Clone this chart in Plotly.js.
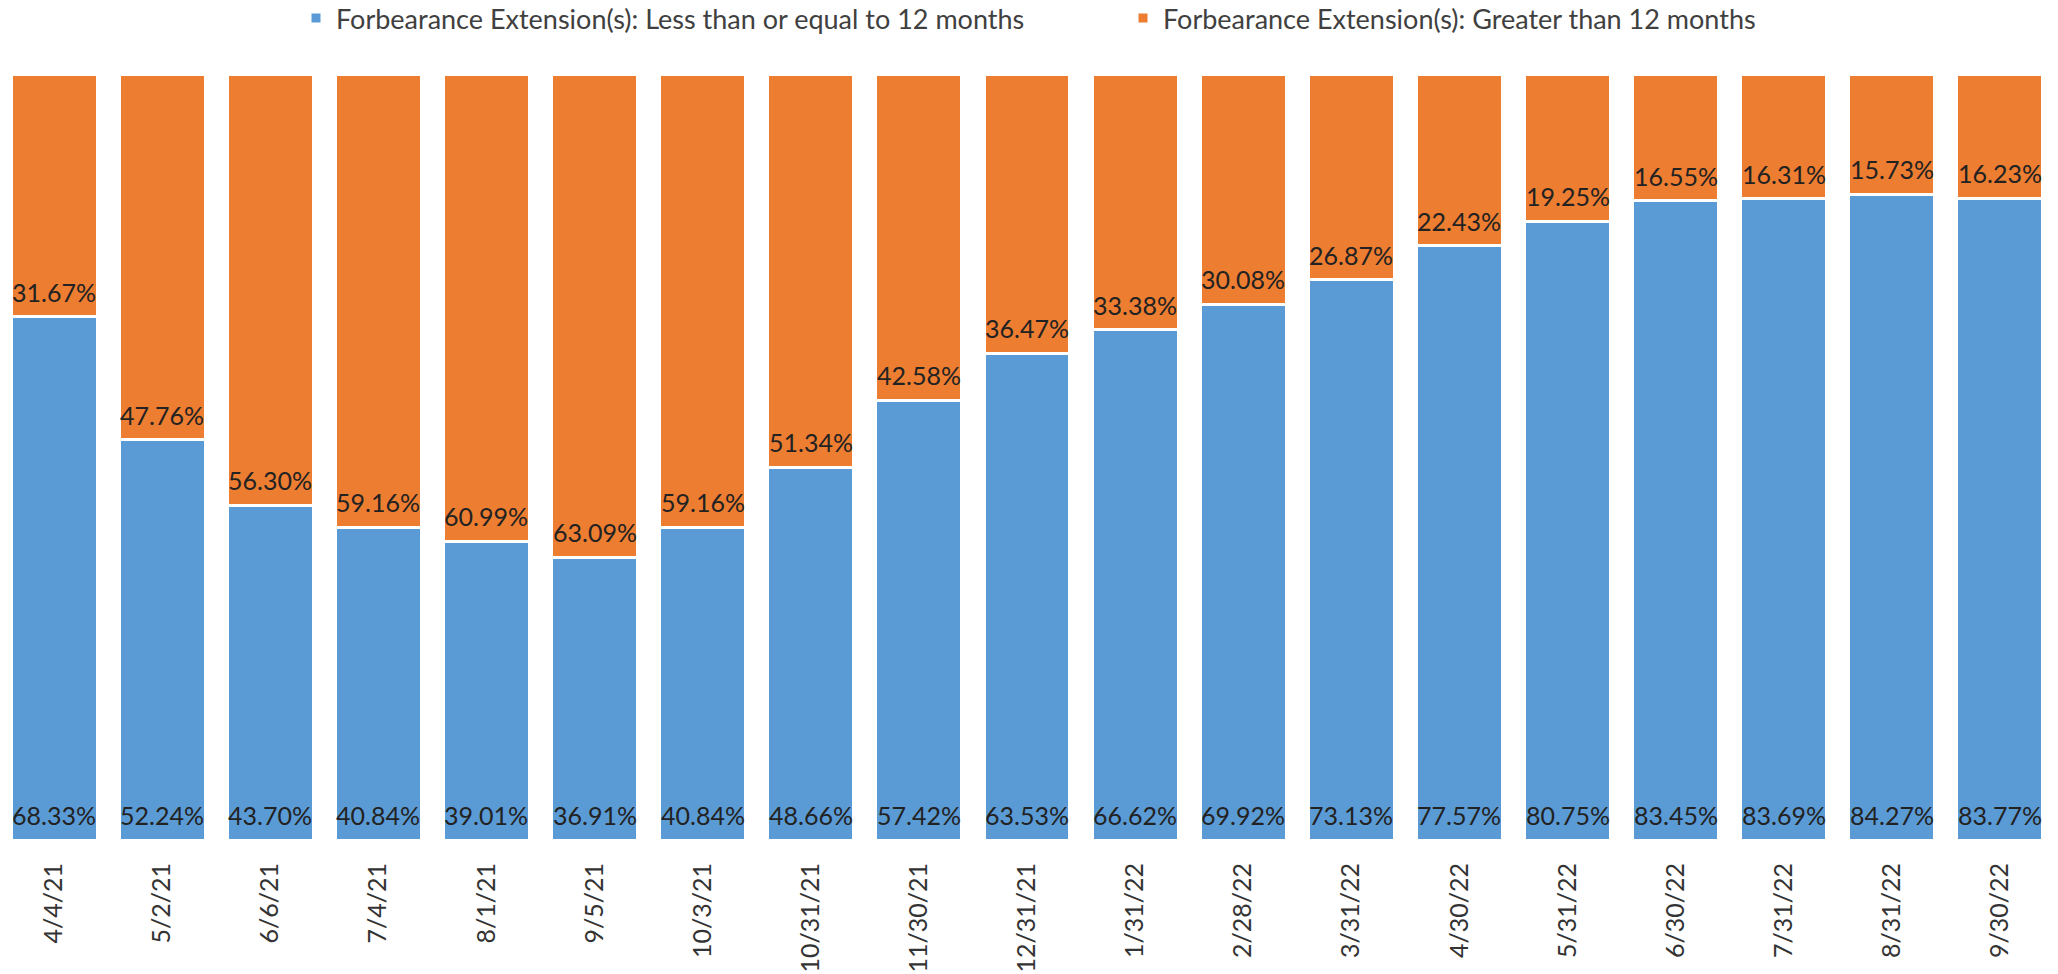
<!DOCTYPE html>
<html>
<head>
<meta charset="utf-8">
<script src="https://cdn.plot.ly/plotly-3.0.1.min.js"></script>
<style>
  html, body { margin: 0; padding: 0; background: #ffffff; }
  #chart { width: 2058px; height: 974px; }
</style>
</head>
<body>
<div id="chart"></div>
<script>
// Reporting dates (category axis)
const dates = [
  '4/4/21', '5/2/21', '6/6/21', '7/4/21', '8/1/21', '9/5/21', '10/3/21',
  '10/31/21', '11/30/21', '12/31/21', '1/31/22', '2/28/22', '3/31/22',
  '4/30/22', '5/31/22', '6/30/22', '7/31/22', '8/31/22', '9/30/22'
];

// Share of forbearance extensions, percent
const shortTerm = [
  68.33, 52.24, 43.70, 40.84, 39.01, 36.91, 40.84, 48.66, 57.42, 63.53,
  66.62, 69.92, 73.13, 77.57, 80.75, 83.45, 83.69, 84.27, 83.77
];
const longTerm = [
  31.67, 47.76, 56.30, 59.16, 60.99, 63.09, 59.16, 51.34, 42.58, 36.47,
  33.38, 30.08, 26.87, 22.43, 19.25, 16.55, 16.31, 15.73, 16.23
];

const seriesNames = [
  'Forbearance Extension(s): Less than or equal to 12 months',
  'Forbearance Extension(s): Greater than 12 months'
];

const FONT = 'Lato, "Open Sans", sans-serif';
const BLUE = '#5B9BD5';
const ORANGE = '#ED7D31';
const LABEL_FONT = { family: FONT, size: 25, color: '#222222' };

function barTrace(values, name, color) {
  return {
    type: 'bar',
    x: dates,
    y: values,
    name: name,
    marker: { color: color, line: { color: '#ffffff', width: 3 } },
    hoverinfo: 'x+y+name'
  };
}

const data = [
  barTrace(shortTerm, seriesNames[0], BLUE),
  barTrace(longTerm, seriesNames[1], ORANGE)
];

// Value labels sit at the base of each stacked segment
const annotations = [];
dates.forEach((d, i) => {
  annotations.push({
    x: d, y: 0, xref: 'x', yref: 'y',
    text: shortTerm[i].toFixed(2) + '%',
    showarrow: false, yanchor: 'bottom', xanchor: 'center', yshift: 8,
    font: LABEL_FONT
  });
  annotations.push({
    x: d, y: shortTerm[i], xref: 'x', yref: 'y',
    text: longTerm[i].toFixed(2) + '%',
    showarrow: false, yanchor: 'bottom', xanchor: 'center', yshift: 8,
    font: LABEL_FONT
  });
});

const layout = {
  width: 2058,
  height: 974,
  margin: { l: 0, r: 4, t: 74, b: 134 },
  paper_bgcolor: '#ffffff',
  plot_bgcolor: '#ffffff',
  barmode: 'stack',
  bargap: 0.205,
  showlegend: true,
  legend: {
    orientation: 'h',
    traceorder: 'normal',
    xref: 'paper',
    x: 296 / 2054,
    xanchor: 'left',
    yref: 'container',
    y: 0.981,
    yanchor: 'middle',
    itemwidth: 30,
    entrywidth: 782,
    entrywidthmode: 'pixels',
    font: { family: FONT, size: 27, color: '#404040' }
  },
  xaxis: {
    type: 'category',
    showline: false,
    showgrid: false,
    zeroline: false,
    ticks: '',
    tickangle: -90,
    ticklabelstandoff: 17,
    tickfont: { family: FONT, size: 25, color: '#333333' }
  },
  yaxis: {
    range: [0, 100],
    visible: false,
    showgrid: false,
    zeroline: false
  },
  annotations: annotations
};

Plotly.newPlot('chart', data, layout, { displayModeBar: false, staticPlot: true });
</script>
</body>
</html>
